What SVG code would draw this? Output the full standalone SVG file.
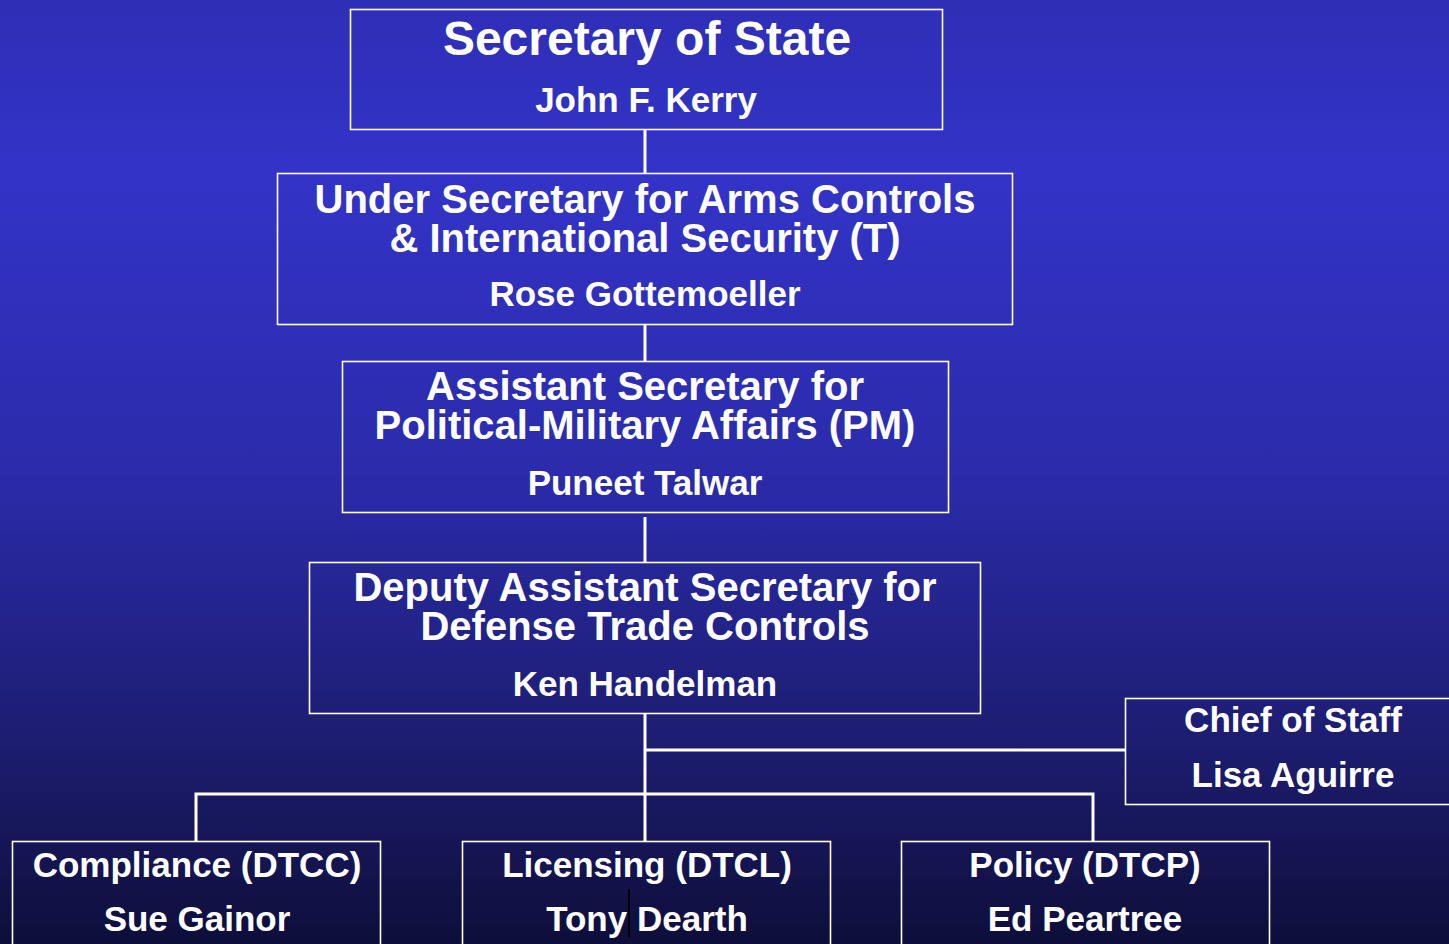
<svg xmlns="http://www.w3.org/2000/svg" width="1449" height="944" viewBox="0 0 1449 944">
<defs>
<linearGradient id="bg" x1="0" y1="0" x2="0" y2="1">
<stop offset="0" stop-color="#2e2eb6"/>
<stop offset="0.18" stop-color="#3333c8"/>
<stop offset="0.5" stop-color="#2b2bab"/>
<stop offset="0.8" stop-color="#1c1c6e"/>
<stop offset="1" stop-color="#0e0e3a"/>
</linearGradient>
<style>
.box{fill:none;stroke:#ffffff;stroke-width:1.6}
.t{font-family:"Liberation Sans",Arial,sans-serif;font-weight:bold;fill:#ffffff;text-anchor:middle}
.h1{font-size:48px}
.h2{font-size:40px}
.n{font-size:35px}
.c{stroke:#ffffff;stroke-width:3;fill:none}
</style>
</defs>
<rect x="0" y="0" width="1449" height="944" fill="url(#bg)"/>
<g id="connectors">
<line class="c" x1="645" y1="130" x2="645" y2="173"/>
<line class="c" x1="645" y1="325" x2="645" y2="361"/>
<line class="c" x1="645" y1="517" x2="645" y2="563"/>
<line class="c" x1="645" y1="714" x2="645" y2="841"/>
<line class="c" x1="645" y1="750" x2="1125" y2="750"/>
<polyline class="c" points="196,841 196,794 1093,794 1093,841"/>
</g>
<g id="secretary">
<rect class="box" x="350.5" y="9.5" width="592" height="120"/>
<text class="t h1" x="647" y="55">Secretary of State</text>
<text class="t n" x="646" y="112">John F. Kerry</text>
</g>
<g id="under-secretary">
<rect class="box" x="277.5" y="173.5" width="735" height="151"/>
<text class="t h2" x="645" y="213">Under Secretary for Arms Controls</text>
<text class="t h2" x="645" y="252">&amp; International Security (T)</text>
<text class="t n" x="645" y="306">Rose Gottemoeller</text>
</g>
<g id="assistant-secretary">
<rect class="box" x="342.5" y="361.5" width="606" height="151"/>
<text class="t h2" x="645" y="400">Assistant Secretary for</text>
<text class="t h2" x="645" y="439">Political-Military Affairs (PM)</text>
<text class="t n" x="645" y="495">Puneet Talwar</text>
</g>
<g id="deputy-assistant-secretary">
<rect class="box" x="309.5" y="562.5" width="671" height="151"/>
<text class="t h2" x="645" y="601">Deputy Assistant Secretary for</text>
<text class="t h2" x="645" y="640">Defense Trade Controls</text>
<text class="t n" x="645" y="696">Ken Handelman</text>
</g>
<g id="chief-of-staff">
<rect class="box" x="1125.5" y="698.5" width="330" height="106"/>
<text class="t n" x="1293" y="732">Chief of Staff</text>
<text class="t n" x="1293" y="787">Lisa Aguirre</text>
</g>
<g id="compliance">
<rect class="box" x="12.5" y="841.5" width="368" height="110"/>
<text class="t n" x="197" y="877">Compliance (DTCC)</text>
<text class="t n" x="197" y="931">Sue Gainor</text>
</g>
<g id="licensing">
<rect class="box" x="462.5" y="841.5" width="368" height="110"/>
<text class="t n" x="647" y="877">Licensing (DTCL)</text>
<text class="t n" x="647" y="931">Tony Dearth</text>
<rect x="628" y="889" width="2" height="48" fill="#000000"/>
</g>
<g id="policy">
<rect class="box" x="901.5" y="841.5" width="368" height="110"/>
<text class="t n" x="1085" y="877">Policy (DTCP)</text>
<text class="t n" x="1085" y="931">Ed Peartree</text>
</g>
</svg>
